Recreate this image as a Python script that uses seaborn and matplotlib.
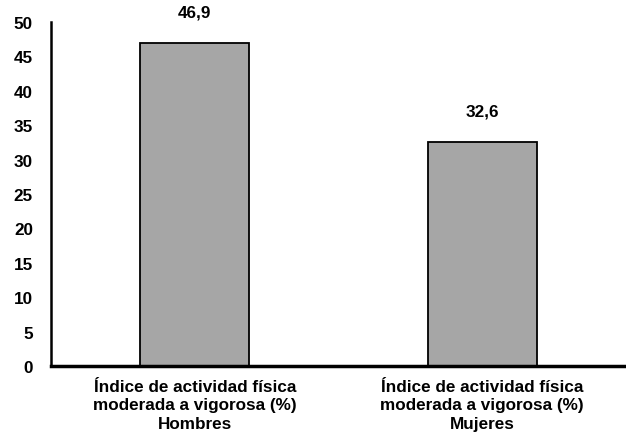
import matplotlib
matplotlib.use("Agg")
import matplotlib.pyplot as plt
import seaborn as sns
import pandas as pd

categories = ["Índice de actividad física\nmoderada a vigorosa (%)\nHombres",
              "Índice de actividad física\nmoderada a vigorosa (%)\nMujeres"]
values = [46.9, 32.6]
value_labels = ["46,9", "32,6"]
yticks = [0, 5, 10, 15, 20, 25, 30, 35, 40, 45, 50]

sns.set_style("white")
plt.rcParams['font.family'] = ['Liberation Sans', 'DejaVu Sans']
plt.rcParams['text.color'] = 'black'
plt.rcParams['xtick.color'] = 'black'
plt.rcParams['ytick.color'] = 'black'

df = pd.DataFrame({"cat": categories, "val": values})
fig = plt.figure(figsize=(6.26, 4.39), dpi=100)
ax = fig.add_axes([0.0815, 0.164, 0.9185, 0.7836])
sns.barplot(data=df, x="cat", y="val", color="#a6a6a6", width=0.38,
            edgecolor="black", linewidth=1.3, saturation=1, ax=ax)
ax.set_ylim(0, 50)
ax.set_yticks(yticks)
ax.set_yticklabels([str(t) for t in yticks], fontsize=12.3, fontweight="bold")
ax.set_xticks(range(len(categories)))
ax.set_xticklabels(categories, fontsize=12.3, fontweight="bold", linespacing=1.3)
ax.set_xlabel("")
ax.set_ylabel("")
ax.tick_params(axis="x", length=0, pad=9)
ax.tick_params(axis="y", length=0, pad=13)
for s in ["top", "right"]:
    ax.spines[s].set_visible(False)
ax.spines["left"].set_linewidth(1.8)
ax.spines["bottom"].set_linewidth(2.5)
ax.spines["left"].set_color("black")
ax.spines["bottom"].set_color("black")
for i, (v, lab) in enumerate(zip(values, value_labels)):
    ax.text(i, v + 3.4, lab, ha="center", va="bottom", fontsize=12.3, fontweight="bold")
fig.savefig("out.png", dpi=100)
